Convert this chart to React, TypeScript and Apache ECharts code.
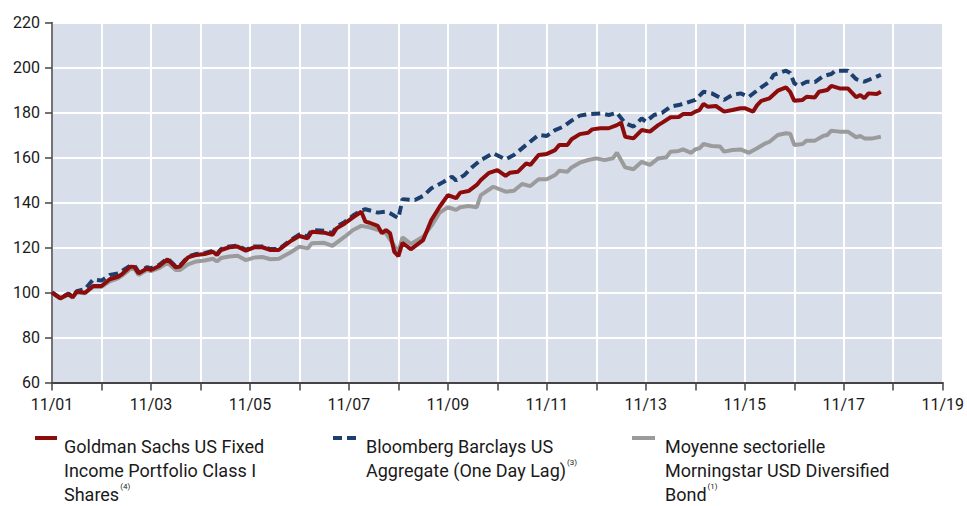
import React, { useEffect, useRef } from "react";
import * as echarts from "echarts";

// x = months since Nov 2001, y = index level (base 100)
const goldman: [number, number][] = [
  [0,100],[2,97.4],[4,99.3],[5,97.9],[6,100.4],[8,99.9],[10,102.9],[12,102.9],[14,105.9],[16,107],
  [17,108.2],[19,111.5],[20,111.3],[21,108.5],[23,110.7],[24,110],[26,111.8],[28,114.7],[30,111.2],[31,111.5],
  [33,115.6],[35,116.7],[37,117.1],[39,118.1],[40,116.7],[41,118.9],[43,120.1],[45,120.4],[47,118.6],[49,120.1],
  [51,120.1],[53,118.9],[55,118.9],[58,123],[60,125.1],[62,124.1],[63,127],[66,126.6],[68,125.6],[69,128.5],
  [71,130.7],[73,133.4],[75,135.9],[76,131.5],[77,131],[79,129.6],[80,126.3],[81,127.8],[82,126.3],[83,118.1],
  [84,116.2],[85,122.1],[87,119.2],[90,123.3],[91,127.8],[92,132.2],[94,138.1],[96,143.3],[98,141.9],[99,144.4],
  [101,145.1],[103,147.8],[104,150],[106,153.2],[108,154.4],[110,151.8],[111,153.2],[113,153.7],[115,157.4],[116,156.7],
  [118,161.1],[120,161.6],[122,163.3],[123,165.6],[125,165.6],[126,168.1],[128,170.4],[130,171],[131,172.5],[133,173],
  [135,173],[137,174.4],[138,175.5],[139,169.2],[141,168.5],[143,172.2],[145,171.5],[147,174.4],[148,175.5],[150,177.9],
  [152,178],[153,179.3],[155,179.3],[156,180.4],[157,181.1],[158,183.8],[159,182.6],[161,182.9],[163,180.4],[165,181.1],
  [167,181.9],[168,181.9],[170,180.4],[171,183.3],[172,185.2],[174,186.3],[176,189.7],[178,191.2],[179,189.2],[180,185.2],
  [182,185.6],[183,187],[185,186.7],[186,189.2],[188,190],[189,191.8],[191,190.7],[193,190.7],[195,186.8],[196,187.8],
  [197,186.3],[198,188.5],[200,188.2],[201,189.2]
];

const bloomberg: [number, number][] = [
  [0,100],[2,97.6],[4,99.5],[5,98.2],[6,100.6],[8,101.5],[10,105.8],[12,105.3],[14,107.8],[16,108.5],
  [17,109.6],[19,112],[20,112],[21,109.2],[23,111.2],[24,110.8],[26,112.3],[28,115.1],[30,111.6],[31,111.9],
  [33,116],[35,117.1],[37,117.5],[39,118.5],[40,117.1],[41,119.3],[43,120.5],[45,120.8],[47,119],[49,120.5],
  [51,120.5],[53,119.3],[55,119.3],[58,123.5],[60,125.8],[62,125],[63,127.8],[66,127.4],[68,126.4],[69,129.2],
  [71,131.4],[73,134.2],[75,136.4],[76,137],[79,135.5],[81,135.9],[82,135.2],[84,133],[85,141.5],[88,141.1],
  [90,142.9],[92,146.3],[95,149.2],[97,151.5],[98,149.8],[100,152.2],[102,155.9],[104,158.9],[107,161.9],[110,159.2],
  [112,161.1],[115,165.6],[118,170],[120,169.6],[122,172.2],[124,173.7],[126,176.4],[128,178.6],[130,179.3],[133,179.6],
  [135,178.9],[137,179.9],[139,175.2],[141,173.7],[143,177.4],[144,175.9],[146,178.9],[148,179.9],[150,182.6],[152,183.3],
  [154,184.4],[156,185.6],[158,189.2],[160,188.5],[163,185.6],[165,187.8],[167,188.5],[169,187],[172,191.2],[174,193.7],
  [175,196.7],[178,198.6],[179,197.6],[180,193],[181,191.8],[183,193.7],[185,193.5],[187,196.2],[189,197.1],[190,198.6],
  [193,198.6],[195,194.8],[197,193.7],[199,195.2],[201,196.7]
];

const morningstar: [number, number][] = [
  [0,99.8],[2,97.4],[4,99],[5,97.7],[6,100],[8,99.7],[10,102.5],[12,102.5],[14,105],[16,106.3],
  [17,107.5],[19,110.5],[20,110.5],[21,107.8],[23,110],[24,109.5],[26,110.8],[28,113.2],[30,110],[31,110],
  [33,112.5],[35,113.8],[37,114.2],[39,115],[40,113.8],[41,115.3],[43,116],[45,116.3],[47,114.4],[49,115.5],
  [51,115.8],[53,114.8],[55,115],[58,118],[60,120.4],[62,119.6],[63,121.9],[66,122.1],[68,120.7],[71,124.8],
  [73,127.8],[75,129.6],[77,129],[79,127.8],[81,126.3],[83,120.7],[84,118.1],[85,124.5],[87,121.6],[90,124.8],
  [92,129.6],[94,135.5],[96,137.9],[98,136.7],[99,137.9],[101,138.4],[103,137.9],[104,143.3],[107,147],[110,144.8],
  [112,145.2],[114,148.2],[116,147.3],[118,150.3],[120,150.3],[122,152.2],[123,154.1],[125,153.7],[126,155.6],[128,157.7],
  [130,158.9],[132,159.6],[134,158.9],[136,159.6],[137,162.1],[139,155.6],[141,154.8],[143,158.1],[145,156.7],[147,159.6],
  [149,160.1],[150,162.6],[152,162.9],[153,163.6],[155,162.1],[156,163.6],[157,164.1],[158,166],[160,165.1],[162,164.9],
  [163,162.6],[165,163.3],[167,163.6],[169,162.1],[171,164.1],[173,166.3],[174,167],[176,170],[178,170.8],[179,170.6],
  [180,165.6],[182,166],[183,167.5],[185,167.5],[187,169.6],[188,170],[189,171.9],[191,171.5],[193,171.5],[195,169],
  [196,169.6],[197,168.5],[199,168.5],[201,169.2]
];

const xTickLabels = ["11/01","11/03","11/05","11/07","11/09","11/11","11/13","11/15","11/17","11/19"];

const FONT = "Roboto, 'Liberation Sans', sans-serif";
const RED = "#8c0b0b";
const BLUE = "#1c3f6e";
const GREY = "#9b9b9b";

export default function App() {
  const ref = useRef<HTMLDivElement>(null);
  useEffect(() => {
    document.body.style.margin = "0";
    if (!ref.current) return;
    const chart = echarts.init(ref.current, null, { renderer: "svg" });
    const legendText = (x: number, text: string) => ({
      type: "text",
      left: x,
      top: 434,
      style: {
        text,
        fontFamily: FONT,
        fontSize: 18,
        lineHeight: 24,
        fill: "#1a1a1a",
        rich: {
          sup: { fontFamily: FONT, fontSize: 8, lineHeight: 24, verticalAlign: "top", fill: "#1a1a1a", padding: [0, 0, 0, 1] },
        },
      },
    });
    chart.setOption({
      animation: false,
      grid: {
        left: 52, right: 20, top: 22.5, bottom: 123.5,
        show: true, backgroundColor: "#d9dfea", borderWidth: 0,
      },
      xAxis: {
        type: "value", min: 0, max: 216, interval: 12,
        axisLine: { show: true, onZero: false, lineStyle: { color: "#444", width: 2 } },
        axisTick: { show: true, length: 8, lineStyle: { color: "#444", width: 1.5 } },
        axisLabel: {
          margin: 14, fontFamily: FONT, fontSize: 16, color: "#1a1a1a",
          formatter: (v: number) => (v % 24 === 0 ? xTickLabels[v / 24] ?? "" : ""),
        },
        splitLine: { show: true, lineStyle: { color: "#ffffff", width: 2 } },
      },
      yAxis: {
        type: "value", min: 60, max: 220, interval: 20,
        axisLine: { show: true, lineStyle: { color: "#444", width: 1.5 } },
        axisTick: { show: true, length: 7, lineStyle: { color: "#444", width: 1.5 } },
        axisLabel: { margin: 12, fontFamily: FONT, fontSize: 16, color: "#1a1a1a" },
        splitLine: { show: true, lineStyle: { color: "#ffffff", width: 2 } },
      },
      series: [
        { name: "Morningstar", type: "line", data: morningstar, showSymbol: false, lineStyle: { color: GREY, width: 4 }, z: 2 },
        { name: "Bloomberg", type: "line", data: bloomberg, showSymbol: false, lineStyle: { color: BLUE, width: 4, type: [9, 5] }, z: 3 },
        { name: "Goldman", type: "line", data: goldman, showSymbol: false, lineStyle: { color: RED, width: 4 }, z: 4 },
      ],
      graphic: [
        { type: "line", shape: { x1: 35, y1: 438, x2: 57, y2: 438 }, style: { stroke: RED, lineWidth: 4 } },
        { type: "line", shape: { x1: 333, y1: 438, x2: 356, y2: 438 }, style: { stroke: BLUE, lineWidth: 4, lineDash: [9, 5] } },
        { type: "line", shape: { x1: 632, y1: 438, x2: 655, y2: 438 }, style: { stroke: GREY, lineWidth: 4 } },
        legendText(64, "Goldman Sachs US Fixed\nIncome Portfolio Class I\nShares{sup|(4)}"),
        legendText(366, "Bloomberg Barclays US\nAggregate (One Day Lag){sup|(3)}"),
        legendText(665, "Moyenne sectorielle\nMorningstar USD Diversified\nBond{sup|(1)}"),
      ],
    });
    return () => chart.dispose();
  }, []);
  return <div ref={ref} style={{ width: 967, height: 506 }} />;
}
